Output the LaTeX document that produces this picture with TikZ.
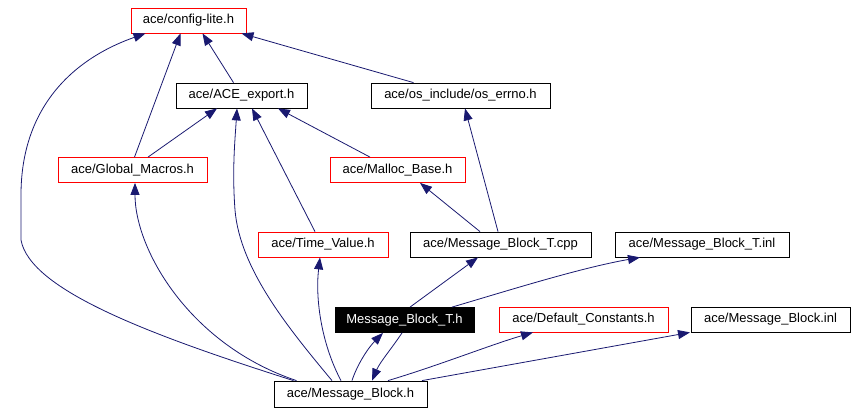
\documentclass[tikz,border=0pt]{standalone}
\usepackage[svgnames]{xcolor}
\usepackage{fontspec}
\setmainfont{Liberation Sans}
\usepackage{tikz}
\usetikzlibrary{arrows.meta}

\begin{document}
\begin{tikzpicture}[x=1bp, y=-1bp, line width=0.8bp,
filenode/.style = {rectangle, draw=black, fill=white, minimum height=25bp, inner sep=0pt},
rednode/.style={filenode, draw=red},
mainnode/.style={filenode, fill=black, text=white},
dep/.style={draw=MidnightBlue, -{Triangle[length=12bp,width=9bp]}}]
\tikzstyle{every node}=[font=\fontsize{13bp}{15bp}\selectfont]
\useasboundingbox (0,0) rectangle (855,413);
\node[rednode, minimum width=115bp] (1) at (188.5,20.5) {ace/config-lite.h};
\node[filenode, minimum width=131bp] (2) at (241.5,95.5) {ace/ACE\_export.h};
\node[filenode, minimum width=179bp] (3) at (460.5,95.5) {ace/os\_include/os\_errno.h};
\node[rednode, minimum width=149bp] (4) at (132.5,170) {ace/Global\_Macros.h};
\node[rednode, minimum width=135bp] (5) at (397.5,170) {ace/Malloc\_Base.h};
\node[rednode, minimum width=130bp] (6) at (323,244.5) {ace/Time\_Value.h};
\node[filenode, minimum width=181bp] (7) at (500.5,244.5) {ace/Message\_Block\_T.cpp};
\node[filenode, minimum width=174bp] (8) at (702,244.5) {ace/Message\_Block\_T.inl};
\node[mainnode, minimum width=139bp] (9) at (404.5,320) {Message\_Block\_T.h};
\node[rednode, minimum width=169bp] (10) at (583.5,319.5) {ace/Default\_Constants.h};
\node[filenode, minimum width=159bp] (11) at (770.5,319.5) {ace/Message\_Block.inl};
\node[filenode, minimum width=153bp, minimum height=26bp] (12) at (350.5,394) {ace/Message\_Block.h};

\draw[dep] ([xshift=2bp]4.north) -- ([xshift=-8bp]1.south);
\draw[dep] ([xshift=-8bp]2.north) -- ([xshift=14bp]1.south);
\draw[dep] ([xshift=-47bp]3.north) -- ([xshift=53bp]1.south);
\draw[dep] ([xshift=-57bp]12.north) .. controls (150,335) and (30,290) .. (21,240)
  -- (21,195) .. controls (21,110) and (70,60) .. ([xshift=-43bp]1.south);
\draw[dep] ([xshift=15.5bp]4.north) -- ([xshift=-24.5bp]2.south);
\draw[dep] ([xshift=-18.5bp]12.north) .. controls (290,330) and (240,270) .. (235,210)
  .. controls (232,170) and (235,140) .. ([xshift=-4.5bp]2.south);
\draw[dep] ([xshift=-8bp]6.north) -- ([xshift=10.5bp]2.south);
\draw[dep] ([xshift=-27.5bp]5.north) -- ([xshift=36.5bp]2.south);
\draw[dep] ([xshift=-20.5bp]7.north) -- ([xshift=22.5bp]5.south);
\draw[dep] ([xshift=-2.5bp]7.north) -- ([xshift=4.5bp]3.south);
\draw[dep] ([xshift=-54bp]12.north) .. controls (190,345) and (135,250) .. ([xshift=2.5bp]4.south);
\draw[dep] ([xshift=-9.5bp]12.north) .. controls (322,345) and (315,300) .. ([xshift=-3bp]6.south);
\draw[dep] ([xshift=5.5bp]9.north) -- ([xshift=-22.5bp]7.south);
\draw[dep] ([xshift=47.5bp]9.north) .. controls (510,290) and (580,268) .. ([xshift=-62bp]8.south);
\draw[dep] ([xshift=1.5bp]12.north) .. controls (357,365) and (368,348) .. ([xshift=-21.5bp]9.south);
\draw[dep] ([xshift=-2.5bp]9.south) .. controls (392,348) and (380,362) .. ([xshift=21.5bp]12.north);
\draw[dep] ([xshift=37.5bp]12.north) .. controls (440,365) and (490,345) .. ([xshift=-50.5bp]10.south);
\draw[dep] ([xshift=71.5bp]12.north) -- ([xshift=-80.5bp]11.south);
\end{tikzpicture}
\end{document}
